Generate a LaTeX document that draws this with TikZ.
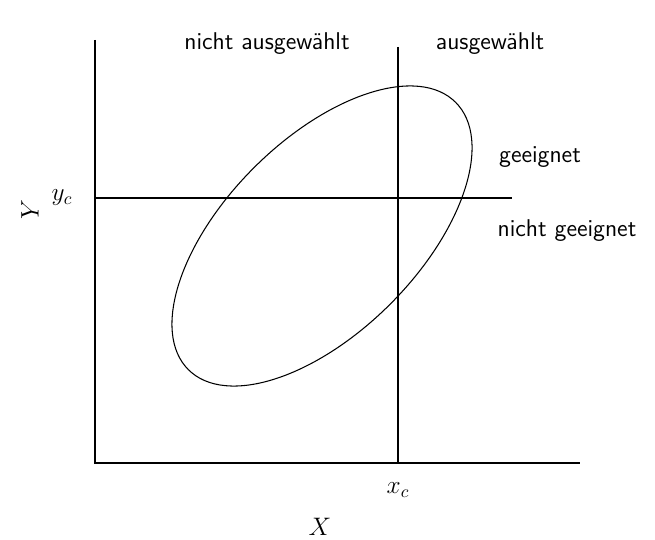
\documentclass[tikz,border=0pt]{standalone}
\usepackage{tikz}
\usepackage{amsmath}

\begin{document}
\begin{tikzpicture}[
  x=0.02cm,y=-0.02cm,
  axis/.style={line width=1.1pt,black},
  cut/.style={line width=0.9pt,black},
  lbl/.style={font=\sffamily\fontsize{13.8}{16}\selectfont},
  mlbl/.style={font=\fontsize{13.8}{16}\selectfont},
]
\useasboundingbox (0,0) rectangle (655,540);
% axes
\coordinate (yTop) at (95,40);
\coordinate (orig) at (95,463);
\coordinate (xEnd) at (580,463);
\draw[axis] (yTop) -- (orig) -- (xEnd);
% selection lines
\coordinate (xcTop) at (398,47);
\coordinate (xcBot) at (398,463);
\coordinate (ycLeft) at (95,198);
\coordinate (ycRight) at (512,198);
\draw[cut] (xcTop) -- (xcBot);
\draw[cut] (ycLeft) -- (ycRight);
% ellipse
\draw[line width=0.6pt] (322,236) ellipse[x radius=189,y radius=96.4,rotate=45];
% labels
\node[lbl] (notsel) at (267,44) {nicht ausgewählt};
\node[lbl] (sel) at (490,44) {ausgewählt};
\node[lbl] (good) at (540,157) {geeignet};
\node[lbl] (notgood) at (567,231) {nicht geeignet};
\node[mlbl] (yc) at (62,198) {$y_c$};
\node[mlbl] (xc) at (398,490) {$x_c$};
\node[mlbl,rotate=90] (ylab) at (30,210) {$Y$};
\node[mlbl,inner sep=1pt] (xlab) at (320,527) {$X$};
\end{tikzpicture}
\end{document}
